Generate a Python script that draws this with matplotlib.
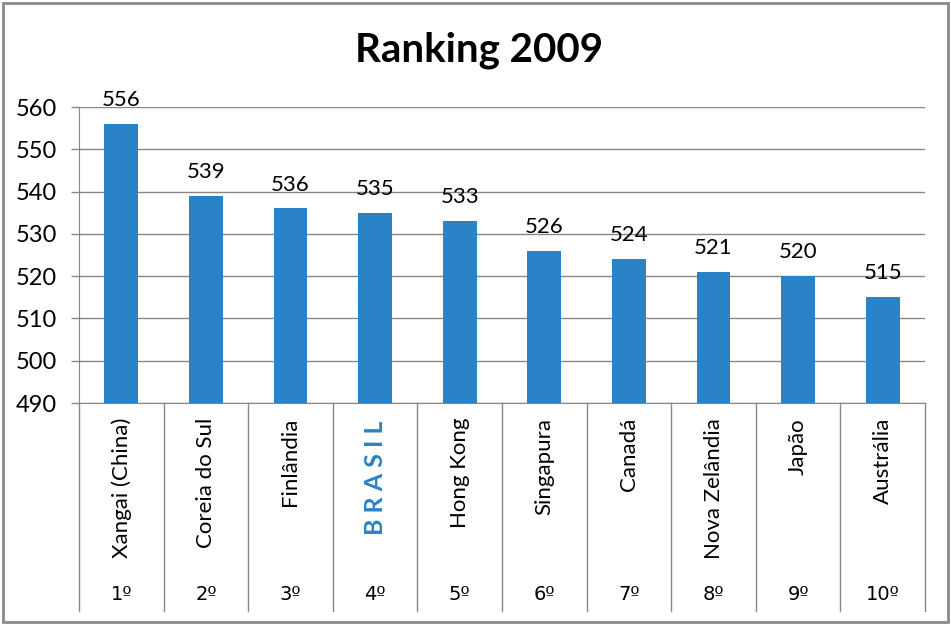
import matplotlib
matplotlib.use('Agg')
import matplotlib.pyplot as plt
import matplotlib.transforms as mtransforms
from matplotlib.patches import Rectangle

# data
paises = ['Xangai (China)', 'Coreia do Sul', 'Finlândia', 'BRASIL', 'Hong Kong',
          'Singapura', 'Canadá', 'Nova Zelândia', 'Japão', 'Austrália']
posicoes = ['1º', '2º', '3º', '4º', '5º', '6º', '7º', '8º', '9º', '10º']
notas = [556, 539, 536, 535, 533, 526, 524, 521, 520, 515]
y_ticks = [490, 500, 510, 520, 530, 540, 550, 560]

bar_color = '#2A83C6'
line_color = '#878787'
plt.rcParams['font.family'] = ['Lato', 'DejaVu Sans']

W, H = 951, 626
fig = plt.figure(figsize=(W / 100, H / 100), dpi=100, facecolor='white')

# chart frame
fig.patches.append(Rectangle((3 / W, 4 / H), 945 / W, 619 / H, transform=fig.transFigure,
                             fill=False, edgecolor='#8a8a8a', linewidth=2))

# plot area in pixels: x 79..925, y 107..403
ax = fig.add_axes([79 / W, (H - 403) / H, (925 - 79) / W, (403 - 107) / H])
x = list(range(len(paises)))
ax.bar(x, notas, width=0.4, color=bar_color, zorder=3, bottom=0)
ax.set_xlim(-0.5, len(paises) - 0.5)
ax.set_ylim(490, 560)
ax.set_yticks(y_ticks)
ax.set_yticklabels([str(t) for t in y_ticks], fontsize=17)
ax.tick_params(axis='y', length=6, width=1, color=line_color, pad=10)
ax.tick_params(axis='x', bottom=False, labelbottom=False)
ax.yaxis.grid(True, color=line_color, linewidth=1, zorder=0)
for s in ['top', 'right']:
    ax.spines[s].set_visible(False)
ax.spines['left'].set_color(line_color)
ax.spines['bottom'].set_color(line_color)

# value labels
for xi, v in zip(x, notas):
    ax.annotate(str(v), (xi, v), xytext=(0, 10), textcoords='offset points',
                ha='center', va='bottom', fontsize=16, annotation_clip=False)

# category axis below the plot
trans = mtransforms.blended_transform_factory(ax.transData, ax.transAxes)
y_bottom = (403 - 611) / (403 - 107)
for i in range(len(paises) + 1):
    ax.plot([i - 0.5, i - 0.5], [0, y_bottom], transform=trans, color=line_color,
            linewidth=1, clip_on=False)

y_name = (403 - 418) / (403 - 107)
y_rank = (403 - 594) / (403 - 107)
for xi, nome, pos in zip(x, paises, posicoes):
    if nome == 'BRASIL':
        ax.text(xi, y_name - 0.01, 'B R A S I L', transform=trans, rotation=90, ha='center',
                va='top', fontsize=18, fontweight='bold', color=bar_color)
    else:
        ax.text(xi, y_name, nome, transform=trans, rotation=90, ha='center', va='top',
                fontsize=16)
    # DejaVu has the underlined ordinal sign like the original
    ax.text(xi, y_rank, pos, transform=trans, ha='center', va='center', fontsize=14,
            family=['DejaVu Sans'])

fig.text(479 / W, 1 - 50 / H, 'Ranking 2009', ha='center', va='center',
         fontsize=29, fontweight='bold')

fig.savefig('out.png', dpi=100, facecolor='white')
